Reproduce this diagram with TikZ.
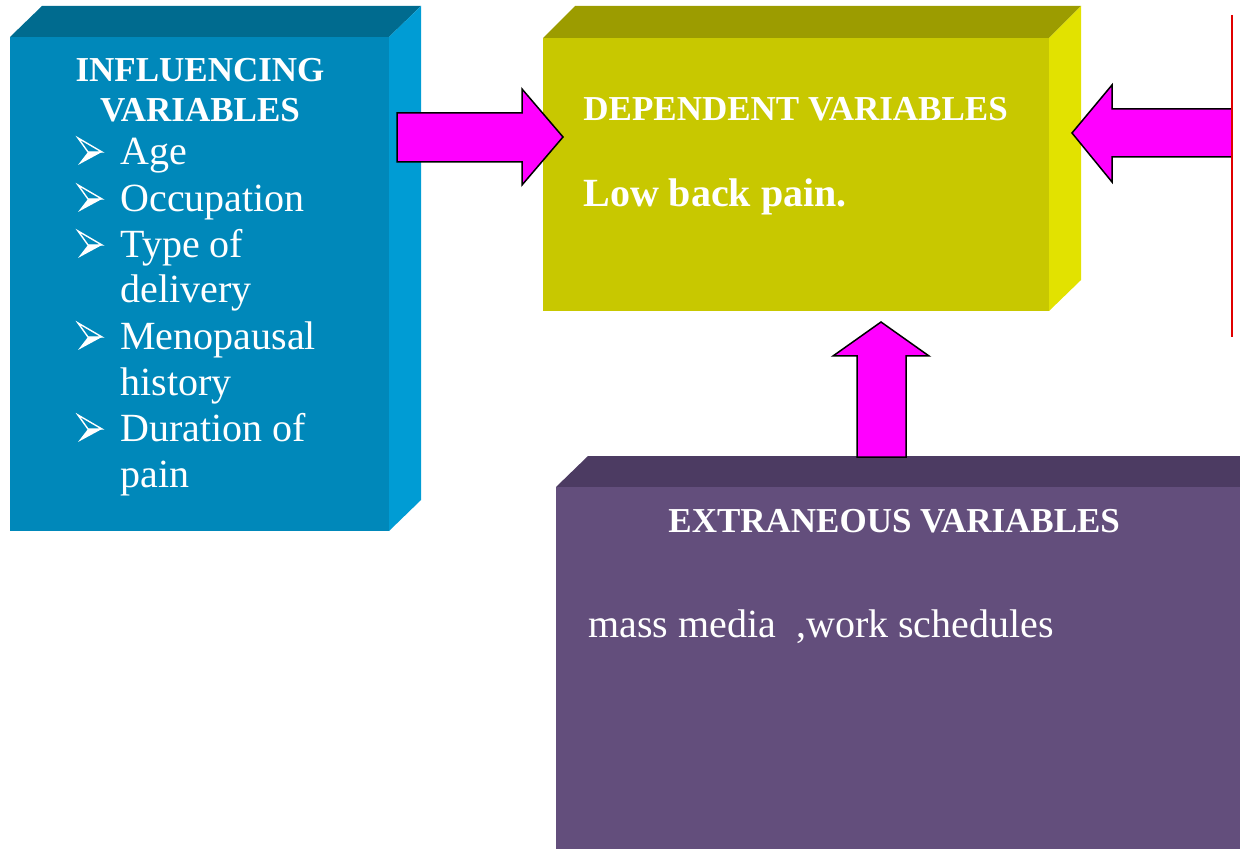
\documentclass[tikz,border=0pt]{standalone}
\usepackage{fontspec}
\setmainfont{Liberation Serif}
\definecolor{bluefront}{HTML}{0088BA}
\definecolor{bluetop}{HTML}{006B8F}
\definecolor{blueside}{HTML}{009CD4}
\definecolor{yelfront}{HTML}{C8C800}
\definecolor{yeltop}{HTML}{9C9C00}
\definecolor{yelside}{HTML}{E2E200}
\definecolor{purfront}{HTML}{634E7C}
\definecolor{purtop}{HTML}{4C3B62}
\definecolor{arrowmag}{HTML}{FF00FF}
\definecolor{redline}{HTML}{E00000}
\begin{document}
\begin{tikzpicture}[x=0.5pt,y=-0.5pt,
  hd/.style={font=\fontsize{17.5}{21}\selectfont\bfseries, text=white, inner sep=0pt},
  hdl/.style={hd, anchor=base west},
  it/.style={font=\fontsize{20}{23}\selectfont, text=white, inner sep=0pt, anchor=base west},
  itb/.style={it, font=\fontsize{20}{23}\selectfont\bfseries},
  bulletmark/.style={draw=white, fill=white, line width=0.6pt, line join=miter},
  blockarrow/.style={fill=arrowmag, draw=black, line width=0.75pt, line join=miter}]
\useasboundingbox (0,0) rectangle (1240,849);

% Influencing variables box
\fill[bluetop] (10,37) -- (42,6) -- (421,6) -- (389,37) -- cycle;
\fill[blueside] (389,37) -- (421,6) -- (421,500) -- (389,531) -- cycle;
\fill[bluefront] (10,37) rectangle (389,531);

% Dependent variables box
\fill[yeltop] (543,38) -- (575,6) -- (1081,6) -- (1049,38) -- cycle;
\fill[yelside] (1049,38) -- (1081,6) -- (1081,280) -- (1049,311) -- cycle;
\fill[yelfront] (543,38) rectangle (1049,311);

% Extraneous variables box
\fill[purtop] (556,487) -- (588,456) -- (1240,456) -- (1240,487) -- cycle;
\fill[purfront] (556,487) rectangle (1240,849);

% Block arrows
\draw[blockarrow] (397,113) -- (522,113) -- (522,89) -- (563,137) -- (522,185) -- (522,162) -- (397,162) -- cycle;
\draw[blockarrow] (1232,109) -- (1112,109) -- (1112,85) -- (1072,133) -- (1112,182) -- (1112,157) -- (1232,157) -- cycle;
\draw[blockarrow] (857,457) -- (857,356) -- (833,356) -- (881,322) -- (929,356) -- (906,356) -- (906,457) -- cycle;
\draw[redline, line width=0.75pt] (1232,15) -- (1232,337);

% Bullet marks (3D arrowheads)
\foreach \yb in {165,212,258,350,442} {
  \draw[white, line width=0.7pt, line join=miter] (78,\yb-27) -- (102,\yb-13) -- (88,\yb-13) -- cycle;
  \fill[white] (88,\yb-13) -- (102,\yb-13) -- (78,\yb) -- cycle;
}

% Texts
\node[hd, anchor=base] (inf1) at (200,82) {INFLUENCING};
\node[hd, anchor=base] (inf2) at (200,122) {VARIABLES};
\node[it] (i1) at (120,165) {Age};
\node[it] (i2) at (120,212) {Occupation};
\node[it] (i3) at (120,258) {Type of};
\node[it] (i3b) at (120,303) {delivery};
\node[it] (i4) at (120,350) {Menopausal};
\node[it] (i4b) at (120,395) {history};
\node[it] (i5) at (120,442) {Duration of};
\node[it] (i5b) at (120,487) {pain};

\node[hdl] (dep) at (583,121) {DEPENDENT VARIABLES};
\node[itb] (lbp) at (583,207) {Low back pain.};

\node[hdl] (ext) at (668,532) {EXTRANEOUS VARIABLES};
\node[it] (mm) at (588,637) {mass media\ \ ,work schedules};
\end{tikzpicture}
\end{document}
